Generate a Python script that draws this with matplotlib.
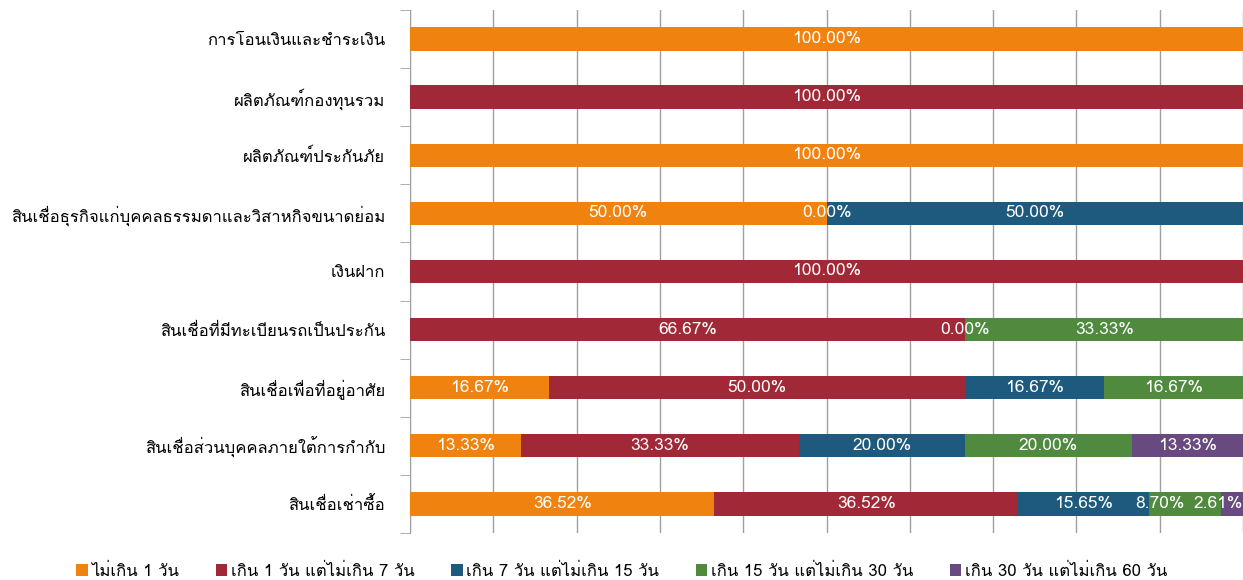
import matplotlib
matplotlib.use("Agg")
import matplotlib.pyplot as plt
from matplotlib import font_manager
from matplotlib.ft2font import FT2Font
import numpy as np

# pick an installed font that has Thai glyphs
thai_font = None
for f in font_manager.fontManager.ttflist:
    try:
        ft = FT2Font(f.fname)
        if ft.get_char_index(ord('ก')) and ft.get_char_index(ord('เ')):
            thai_font = f.name
            break
    except Exception:
        pass
families = ([thai_font] if thai_font else []) + ['DejaVu Sans']
plt.rcParams['font.family'] = families

categories = [
    'การโอนเงินและชำระเงิน',
    'ผลิตภัณฑ์กองทุนรวม',
    'ผลิตภัณฑ์ประกันภัย',
    'สินเชื่อธุรกิจแก่บุคคลธรรมดาและวิสาหกิจขนาดย่อม',
    'เงินฝาก',
    'สินเชื่อที่มีทะเบียนรถเป็นประกัน',
    'สินเชื่อเพื่อที่อยู่อาศัย',
    'สินเชื่อส่วนบุคคลภายใต้การกำกับ',
    'สินเชื่อเช่าซื้อ',
]
series_names = [
    'ไม่เกิน 1 วัน',
    'เกิน 1 วัน แต่ไม่เกิน 7 วัน',
    'เกิน 7 วัน แต่ไม่เกิน 15 วัน',
    'เกิน 15 วัน แต่ไม่เกิน 30 วัน',
    'เกิน 30 วัน แต่ไม่เกิน 60 วัน',
]
# None = no value / no label
s1 = [100.00, None, 100.00, 50.00, None, None, 16.67, 13.33, 36.52]
s2 = [None, 100.00, None, 0.00, 100.00, 66.67, 50.00, 33.33, 36.52]
s3 = [None, None, None, 50.00, None, 0.00, 16.67, 20.00, 15.65]
s4 = [None, None, None, None, None, 33.33, 16.67, 20.00, 8.70]
s5 = [None, None, None, None, None, None, None, 13.33, 2.61]
colors = ['#F0820F', '#A12836', '#1D5A7E', '#4F8A3F', '#684A80']

fig = plt.figure(figsize=(12.43, 5.80), dpi=100)
ax = fig.add_axes([0.33, 0.081, 0.67, 0.902])

y = np.arange(len(categories))
left = np.zeros(len(categories))
labels = [[] for _ in categories]  # (x, text) per row
for vals, name, col in zip([s1, s2, s3, s4, s5], series_names, colors):
    v = np.array([0 if a is None else a for a in vals], dtype=float)
    ax.barh(y, v, left=left, height=0.4, color=col, label=name, zorder=3)
    for i, a in enumerate(vals):
        if a is not None:
            labels[i].append([left[i] + a / 2, f'{a:.2f}%'])
    left += v

# keep labels inside the plot and off each other, like Excel does
for i, row in enumerate(labels):
    for k in range(len(row) - 1, -1, -1):
        lim = 97.0 if k == len(row) - 1 else row[k + 1][0] - 7.0
        if row[k][0] > lim and (k == len(row) - 1 or row[k + 1][0] - row[k][0] < 7.0):
            row[k][0] = lim
    for x, t in row:
        ax.text(x, y[i], t, ha='center', va='center', color='white',
                fontsize=12.5, zorder=4)

ax.set_xlim(0, 100)
ax.set_ylim(len(categories) - 0.5, -0.5)
ax.set_xticks(np.arange(0, 101, 10))
ax.tick_params(axis='x', length=0, labelbottom=False)
ax.grid(axis='x', color='#A0A0A0', linewidth=1, zorder=0)
ax.set_yticks(y)
ax.set_yticklabels(categories, fontsize=12)
ax.set_yticks(np.arange(-0.5, len(categories)), minor=True)
ax.tick_params(axis='y', which='major', length=0, pad=18)
ax.tick_params(axis='y', which='minor', length=7, color='#A0A0A0')
for s in ['top', 'right', 'bottom']:
    ax.spines[s].set_visible(False)
ax.spines['left'].set_color('#A0A0A0')

fig.legend(loc='lower center', bbox_to_anchor=(0.5, -0.025), ncol=5, frameon=False,
           fontsize=12, handlelength=0.7, handleheight=0.7, handletextpad=0.2,
           columnspacing=2.2)

fig.savefig('out.png', dpi=100)
